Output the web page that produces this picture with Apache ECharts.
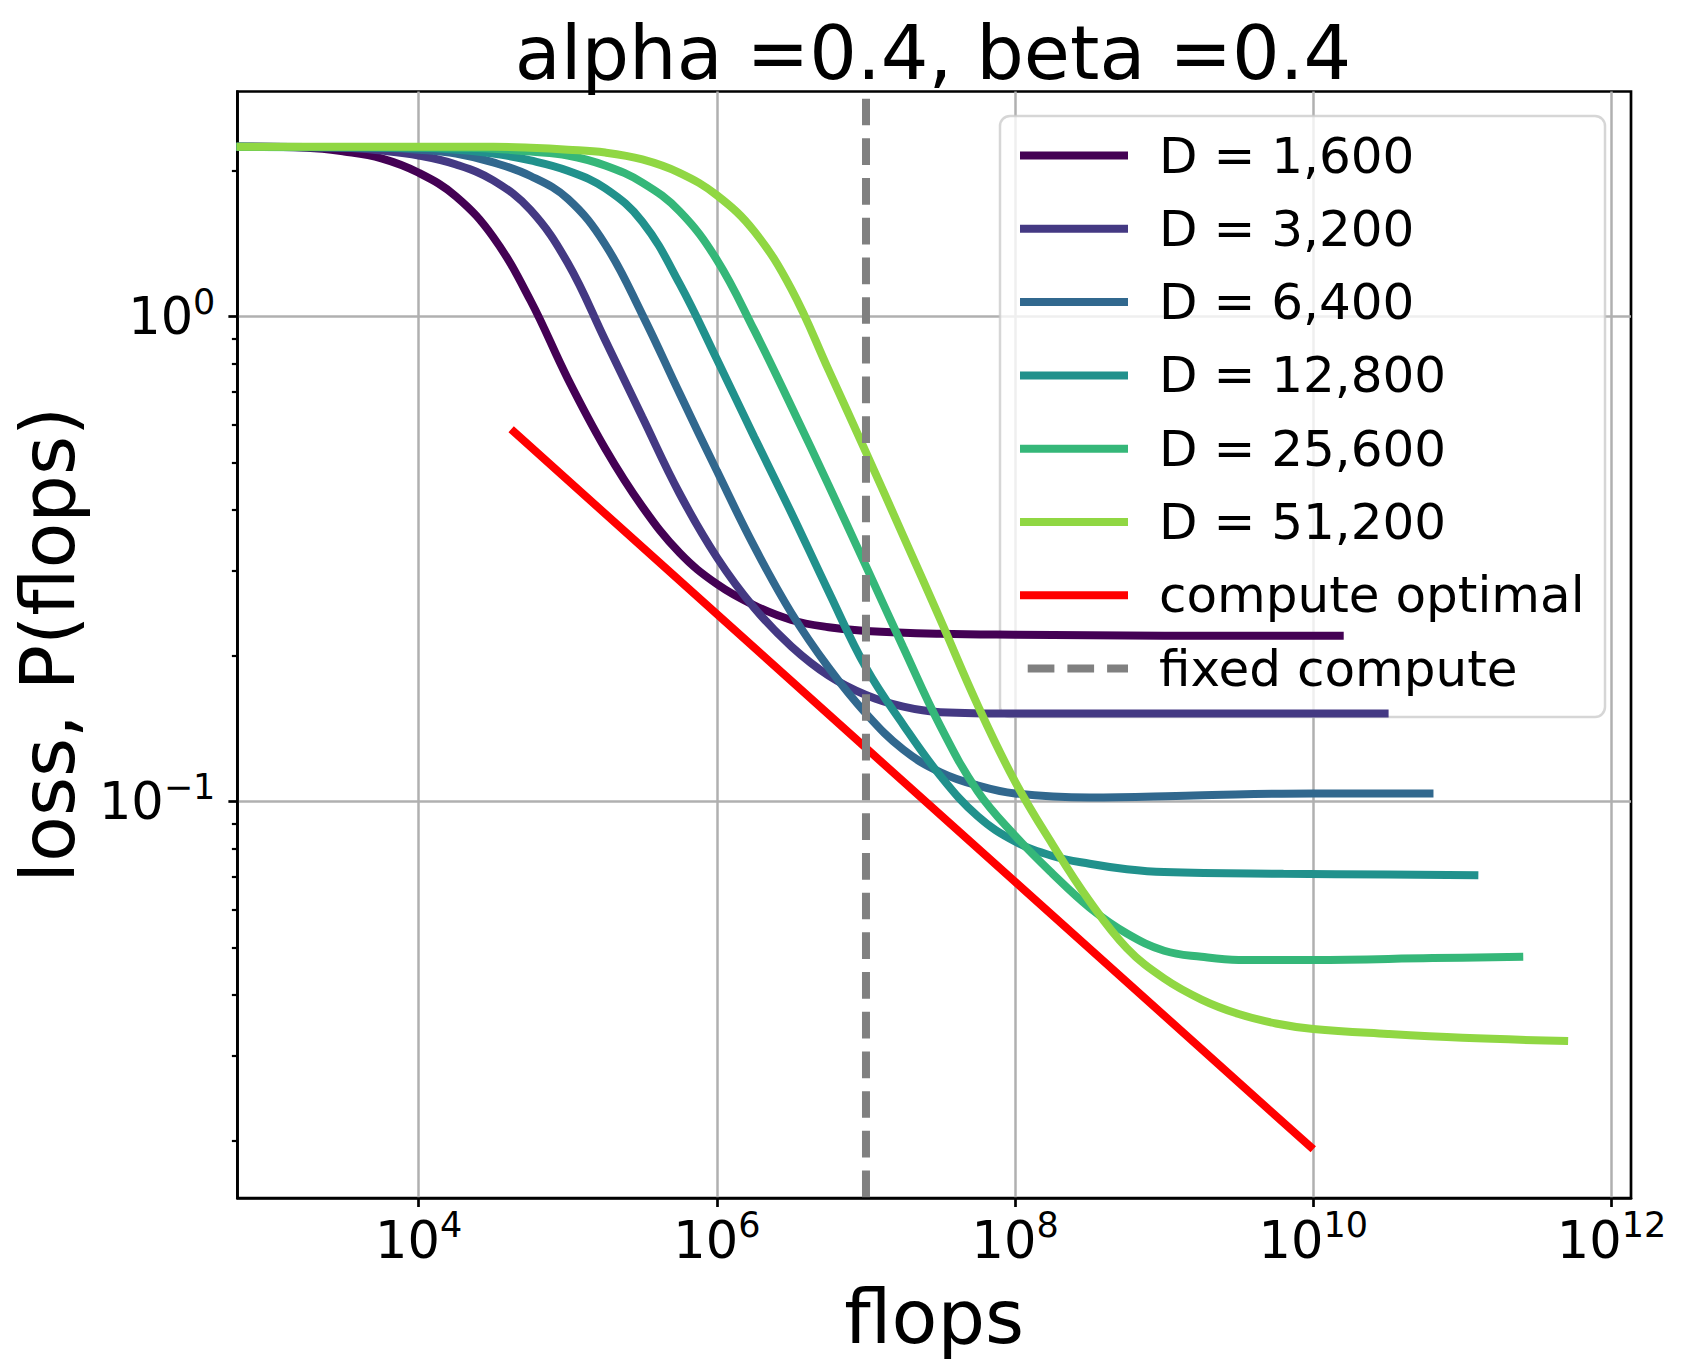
<!DOCTYPE html>
<html>
<head>
<meta charset="utf-8">
<script src="https://cdn.jsdelivr.net/npm/echarts@6/dist/echarts.min.js"></script>
<style>
  html, body { margin: 0; padding: 0; background: #fff; }
  #chart { width: 1686px; height: 1368px; }
</style>
</head>
<body>
<div id="chart"></div>
<script>
// values: flops (x) and loss (y), one pair per curve
const flops1600 = [600, 1.78e3, 3.16e3, 5.62e3, 1e4, 1.78e4, 3.16e4, 5.62e4, 1e5, 1.78e5, 3.16e5, 5.62e5, 1e6, 1.78e6, 3.16e6, 5.62e6, 1e7, 3.16e7, 1e8, 1e9, 1.6e10];
const loss1600 = [2.24, 2.23, 2.19, 2.12, 1.98, 1.77, 1.46, 1.08, 0.745, 0.535, 0.406, 0.326, 0.281, 0.254, 0.237, 0.229, 0.225, 0.222, 0.221, 0.220, 0.220];

const flops3200 = [600, 3.16e3, 5.62e3, 1e4, 1.78e4, 3.16e4, 5.62e4, 1e5, 1.78e5, 3.16e5, 5.62e5, 1e6, 1.78e6, 3.16e6, 5.62e6, 1e7, 1.78e7, 3.16e7, 1e8, 1e9, 3.2e10];
const loss3200 = [2.24, 2.23, 2.20, 2.15, 2.06, 1.91, 1.66, 1.29, 0.895, 0.621, 0.432, 0.319, 0.251, 0.209, 0.182, 0.166, 0.157, 0.153, 0.152, 0.152, 0.152];

const flops6400 = [600, 5.62e3, 1e4, 1.78e4, 3.16e4, 5.62e4, 1e5, 1.78e5, 3.16e5, 5.62e5, 1e6, 1.78e6, 3.16e6, 5.62e6, 1e7, 1.78e7, 3.16e7, 5.62e7, 1e8, 3.16e8, 1.58e9, 1e10, 6.4e10];
const loss6400 = [2.24, 2.23, 2.21, 2.17, 2.08, 1.95, 1.75, 1.41, 1.01, 0.695, 0.481, 0.336, 0.245, 0.189, 0.152, 0.128, 0.115, 0.108, 0.104, 0.102, 0.103, 0.104, 0.104];

const flops12800 = [600, 1e4, 1.78e4, 3.16e4, 5.62e4, 1e5, 1.78e5, 3.16e5, 5.62e5, 1e6, 1.78e6, 3.16e6, 5.62e6, 1e7, 1.78e7, 3.16e7, 5.62e7, 1e8, 1.78e8, 3.16e8, 5.62e8, 1e9, 6.31e9, 3.16e10, 1.28e11];
const loss12800 = [2.24, 2.23, 2.21, 2.17, 2.10, 2.00, 1.84, 1.57, 1.17, 0.817, 0.565, 0.394, 0.271, 0.189, 0.144, 0.113, 0.0933, 0.0828, 0.0773, 0.0745, 0.0726, 0.0716, 0.0710, 0.0708, 0.0705];

const flops25600 = [600, 1.78e4, 3.16e4, 5.62e4, 1e5, 1.78e5, 3.16e5, 5.62e5, 1e6, 1.78e6, 3.16e6, 5.62e6, 1e7, 1.78e7, 3.16e7, 5.62e7, 1e8, 1.78e8, 3.16e8, 5.62e8, 1e9, 1.78e9, 3.16e9, 1e10, 6.31e10, 2.56e11];
const loss25600 = [2.24, 2.23, 2.22, 2.19, 2.15, 2.05, 1.89, 1.65, 1.31, 0.938, 0.653, 0.449, 0.306, 0.208, 0.143, 0.105, 0.0851, 0.0711, 0.0605, 0.0535, 0.0493, 0.0479, 0.0472, 0.0472, 0.0476, 0.0479];

const flops51200 = [600, 3.16e4, 5.62e4, 1e5, 1.78e5, 3.16e5, 5.62e5, 1e6, 1.78e6, 3.16e6, 5.62e6, 1e7, 1.78e7, 3.16e7, 5.62e7, 1e8, 1.78e8, 3.16e8, 5.62e8, 1e9, 1.78e9, 3.16e9, 5.62e9, 1e10, 3.16e10, 1e11, 5.12e11];
const loss51200 = [2.24, 2.24, 2.23, 2.21, 2.18, 2.11, 1.98, 1.78, 1.50, 1.14, 0.776, 0.525, 0.353, 0.237, 0.158, 0.110, 0.0817, 0.0624, 0.0499, 0.0432, 0.0391, 0.0365, 0.0349, 0.0340, 0.0332, 0.0326, 0.0321];

// compute optimal frontier and the fixed compute budget
const optimalFlops = [4.17e4, 1e7, 1e8, 1e10];
const optimalLoss = [0.586, 0.129, 0.0684, 0.0192];
const fixedFlops = [1e7, 1e7];
const fixedLoss = [2.92, 0.0152];

// ticks
const xTicks = [1e4, 1e6, 1e8, 1e10, 1e12];
const yTicks = [0.1, 1];
const yMinorTicks = [0.02, 0.03, 0.04, 0.05, 0.06, 0.07, 0.08, 0.09, 0.2, 0.3, 0.4, 0.5, 0.6, 0.7, 0.8, 0.9, 2];

const dNames = ['D = 1,600', 'D = 3,200', 'D = 6,400', 'D = 12,800', 'D = 25,600', 'D = 51,200'];
const dColors = ['#440154', '#443983', '#31688e', '#21918c', '#35b779', '#90d743'];

const FONT = 'DejaVu Sans';
const LW = 8;

// the axes are linear in log10 space
function pts(xs, ys) {
  return xs.map(function (x, i) { return [Math.log10(x), Math.log10(ys[i])]; });
}
function pow10Label(v) {
  const e = String(Math.round(v)).replace('-', '\u2212');
  return '{b|10}{s|' + e + '}';
}
const tickRich = {
  b: { fontSize: 51, lineHeight: 56, fontFamily: FONT, color: '#000' },
  s: { fontSize: 35, lineHeight: 40, padding: [0, 0, 30, 0], fontFamily: FONT, color: '#000' }
};

const curves = [
  [flops1600, loss1600], [flops3200, loss3200], [flops6400, loss6400],
  [flops12800, loss12800], [flops25600, loss25600], [flops51200, loss51200]
];

const series = curves.map(function (c, i) {
  return {
    type: 'line', name: dNames[i], data: pts(c[0], c[1]),
    symbol: 'none', smooth: 0.4, silent: true,
    lineStyle: { width: LW, color: dColors[i] },
    itemStyle: { color: dColors[i] }
  };
});
series.push({
  type: 'line', name: 'compute optimal', data: pts(optimalFlops, optimalLoss),
  symbol: 'none', silent: true,
  lineStyle: { width: LW, color: '#ff0000' },
  itemStyle: { color: '#ff0000' }
});
series.push({
  type: 'line', name: 'fixed compute', data: pts(fixedFlops, fixedLoss),
  symbol: 'none', silent: true,
  lineStyle: { width: LW, color: '#808080', type: [26.7, 13], dashOffset: 32 },
  itemStyle: { color: '#808080' }
});

const myChart = echarts.init(document.getElementById('chart'), null, { renderer: 'svg' });
const option = {
  animation: false,
  backgroundColor: '#fff',
  textStyle: { fontFamily: FONT },
  grid: {
    left: 236, top: 91.5, width: 1395, height: 1106.5,
    show: true, borderColor: '#000', borderWidth: 2.7
  },
  graphic: [
    {
      type: 'text', x: 933, y: 52.7, silent: true,
      style: {
        text: 'alpha =0.4, beta =0.4', fontSize: 75, fontFamily: FONT, fill: '#000',
        align: 'center', verticalAlign: 'middle', textAlign: 'center', textVerticalAlign: 'middle'
      }
    },
    {
      // legend frame (semi transparent, lines show through)
      type: 'rect', z: 3, silent: true,
      shape: { x: 1000, y: 116, width: 605, height: 601, r: 10 },
      style: { fill: 'rgba(255,255,255,0.8)', stroke: 'rgba(204,204,204,0.8)', lineWidth: 2.5 }
    }
  ],
  legend: {
    orient: 'vertical', left: 1016, top: 127.5, padding: 0, z: 6,
    itemWidth: 108, itemHeight: 8, itemGap: 17.3,
    selectedMode: false,
    itemStyle: { opacity: 0 },
    lineStyle: { width: LW },
    textStyle: { fontSize: 50, fontFamily: FONT, color: '#000', lineHeight: 56, padding: [0, 0, 0, 26] },
    data: dNames.concat(['compute optimal', 'fixed compute'])
  },
  xAxis: {
    type: 'value', min: 2.784, max: 12.131,
    name: 'flops', nameLocation: 'middle', nameGap: 71,
    nameTextStyle: { fontSize: 75, fontFamily: FONT, color: '#000', lineHeight: 80 },
    axisLine: { show: true, onZero: false, lineStyle: { color: '#000', width: 2.7 } },
    axisTick: { show: true, length: 9, lineStyle: { color: '#000', width: 2.7 }, customValues: xTicks.map(Math.log10) },
    axisLabel: { customValues: xTicks.map(Math.log10), margin: 14, formatter: pow10Label, rich: tickRich },
    splitLine: { show: true, lineStyle: { color: '#b0b0b0', width: 2.5 } }
  },
  yAxis: [
    {
      type: 'value', min: -1.817, max: 0.4643,
      name: 'loss, P(flops)', nameLocation: 'middle', nameGap: 142,
      nameTextStyle: { fontSize: 75, fontFamily: FONT, color: '#000', lineHeight: 80 },
      axisLine: { show: true, onZero: false, lineStyle: { color: '#000', width: 2.7 } },
      axisTick: { show: true, length: 9, lineStyle: { color: '#000', width: 2.7 }, customValues: yTicks.map(Math.log10) },
      axisLabel: { customValues: yTicks.map(Math.log10), margin: 22, formatter: pow10Label, rich: tickRich },
      splitLine: { show: true, lineStyle: { color: '#b0b0b0', width: 2.5 } }
    },
    {
      // minor ticks only
      type: 'value', min: -1.817, max: 0.4643, position: 'left',
      axisLine: { show: false, onZero: false },
      axisTick: { show: true, length: 5.5, lineStyle: { color: '#000', width: 2.2 }, customValues: yMinorTicks.map(Math.log10) },
      axisLabel: { show: false },
      splitLine: { show: false }
    }
  ],
  series: series
};
myChart.setOption(option);
</script>
</body>
</html>
